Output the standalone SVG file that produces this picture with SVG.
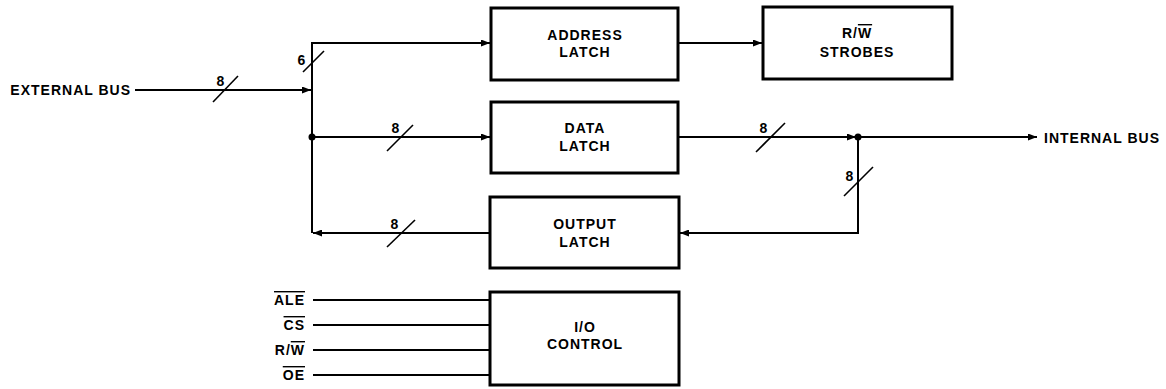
<svg xmlns="http://www.w3.org/2000/svg" width="1166" height="389" viewBox="0 0 1166 389">
<style>
.box{fill:#fff;stroke:#000;stroke-width:3}
.w{fill:none;stroke:#000;stroke-width:2}
.s{fill:none;stroke:#000;stroke-width:1.6}
text{font-family:"Liberation Sans",Arial,sans-serif;font-weight:bold;font-size:14px;letter-spacing:1px;fill:#000}
.c{text-anchor:middle}
.e{text-anchor:end}
.ov{text-decoration:overline}
</style>
<defs>
<marker id="ah" markerUnits="userSpaceOnUse" markerWidth="10" markerHeight="7" refX="9" refY="3.5" orient="auto">
<path d="M0,0 L9,3.5 L0,7 z" fill="#000"/>
</marker>
</defs>
<rect width="1166" height="389" fill="#fff"/>
<g id="connectors">
<line class="w" x1="135" y1="90" x2="311" y2="90" marker-end="url(#ah)"/>
<polyline class="w" points="491,43 312,43 312,233"/>
<line class="w" x1="312" y1="43" x2="490" y2="43" marker-end="url(#ah)"/>
<line class="w" x1="312" y1="137" x2="490" y2="137" marker-end="url(#ah)"/>
<circle cx="312" cy="137" r="3.5" fill="#000"/>
<line class="w" x1="678" y1="43" x2="762" y2="43" marker-end="url(#ah)"/>
<line class="w" x1="678" y1="137" x2="856" y2="137" marker-end="url(#ah)"/>
<line class="w" x1="858" y1="137" x2="1037" y2="137" marker-end="url(#ah)"/>
<circle cx="858" cy="137" r="3.5" fill="#000"/>
<polyline class="w" points="858,137 858,233 700,233"/>
<line class="w" x1="858" y1="233" x2="680" y2="233" marker-end="url(#ah)"/>
<line class="w" x1="490" y1="233" x2="313" y2="233" marker-end="url(#ah)"/>
<line class="w" x1="313" y1="300" x2="490" y2="300"/>
<line class="w" x1="313" y1="325" x2="490" y2="325"/>
<line class="w" x1="313" y1="350" x2="490" y2="350"/>
<line class="w" x1="313" y1="375" x2="490" y2="375"/>
<line class="s" x1="213" y1="102" x2="238" y2="76"/>
<text x="221" y="86" class="c">8</text>
<line class="s" x1="303" y1="72" x2="324" y2="51"/>
<text x="302" y="65" class="c">6</text>
<line class="s" x1="387" y1="151" x2="413" y2="125"/>
<text x="396" y="133" class="c">8</text>
<line class="s" x1="756" y1="152" x2="785" y2="123"/>
<text x="764" y="133" class="c">8</text>
<line class="s" x1="844" y1="196" x2="873" y2="167"/>
<text x="850" y="181" class="c">8</text>
<line class="s" x1="387" y1="247" x2="415" y2="220"/>
<text x="395" y="229" class="c">8</text>
<text x="131" y="95" class="e">EXTERNAL BUS</text>
<text x="1044" y="143">INTERNAL BUS</text>
<text x="305" y="305" class="e"><tspan class="ov">ALE</tspan></text>
<text x="305" y="330" class="e"><tspan class="ov">CS</tspan></text>
<text x="305" y="355" class="e">R/<tspan class="ov">W</tspan></text>
<text x="305" y="380" class="e"><tspan class="ov">OE</tspan></text>
</g>
<g id="address-latch">
<rect class="box" x="491" y="8" width="187" height="72"/>
<text x="585" y="40" class="c">ADDRESS</text>
<text x="585" y="57" class="c">LATCH</text>
</g>
<g id="rw-strobes">
<rect class="box" x="763" y="7" width="189" height="72"/>
<text x="857" y="38" class="c">R/<tspan class="ov">W</tspan></text>
<text x="857" y="57" class="c">STROBES</text>
</g>
<g id="data-latch">
<rect class="box" x="491" y="102" width="187" height="71"/>
<text x="585" y="133" class="c">DATA</text>
<text x="585" y="151" class="c">LATCH</text>
</g>
<g id="output-latch">
<rect class="box" x="490" y="197" width="189" height="71"/>
<text x="585" y="229" class="c">OUTPUT</text>
<text x="585" y="247" class="c">LATCH</text>
</g>
<g id="io-control">
<rect class="box" x="490" y="292" width="189" height="93"/>
<text x="585" y="332" class="c">I/O</text>
<text x="585" y="349" class="c">CONTROL</text>
</g>
</svg>
